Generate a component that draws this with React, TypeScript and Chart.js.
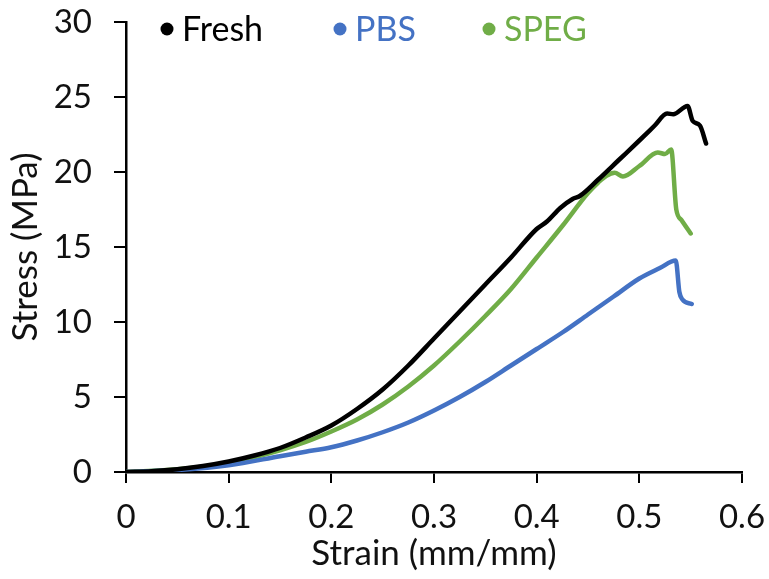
import React, { useEffect, useRef } from "react";
import { Chart, registerables } from "chart.js";

Chart.register(...registerables);

const seriesNames = ["Fresh", "PBS", "SPEG"];
const seriesColors = ["#000000", "#4472C4", "#70AD47"];

const freshStrain = [0, 0.025, 0.05, 0.075, 0.1, 0.125, 0.15, 0.175, 0.2, 0.225, 0.25, 0.275, 0.3, 0.325, 0.35, 0.375, 0.4, 0.41, 0.423, 0.435, 0.442, 0.46, 0.48, 0.5, 0.515, 0.527, 0.533, 0.547, 0.552, 0.559, 0.565];
const freshStress = [0, 0.05, 0.18, 0.4, 0.7, 1.1, 1.6, 2.3, 3.1, 4.2, 5.5, 7.1, 8.9, 10.7, 12.5, 14.3, 16.2, 16.7, 17.6, 18.2, 18.4, 19.5, 20.8, 22.1, 23.1, 23.9, 23.85, 24.4, 23.4, 23.1, 21.9];

const pbsStrain = [0, 0.05, 0.1, 0.15, 0.175, 0.2, 0.225, 0.25, 0.275, 0.3, 0.325, 0.35, 0.375, 0.4, 0.425, 0.45, 0.475, 0.5, 0.52, 0.5355, 0.539, 0.542, 0.551];
const pbsStress = [0, 0.13, 0.45, 1.05, 1.35, 1.65, 2.1, 2.65, 3.3, 4.1, 5.0, 6.0, 7.1, 8.2, 9.3, 10.5, 11.7, 12.9, 13.6, 14.1, 12.0, 11.5, 11.2];

const spegStrain = [0, 0.05, 0.1, 0.15, 0.175, 0.2, 0.225, 0.25, 0.275, 0.3, 0.325, 0.35, 0.375, 0.4, 0.425, 0.45, 0.46, 0.468, 0.476, 0.484, 0.5, 0.518, 0.525, 0.531, 0.536, 0.541, 0.55];
const spegStress = [0, 0.18, 0.6, 1.45, 2.0, 2.7, 3.5, 4.5, 5.7, 7.1, 8.7, 10.4, 12.2, 14.3, 16.4, 18.6, 19.3, 19.75, 19.95, 19.7, 20.4, 21.3, 21.2, 21.5, 17.5, 16.8, 15.9];

const xTickLabels = ["0", "0.1", "0.2", "0.3", "0.4", "0.5", "0.6"];
const yTickLabels = ["0", "5", "10", "15", "20", "25", "30"];
const xTitle = "Strain (mm/mm)";
const yTitle = "Stress (MPa)";

const FONT = "Lato, 'Open Sans', sans-serif";

const pairs = (xs: number[], ys: number[]) => xs.map((x, i) => ({ x, y: ys[i] }));

const legendPlugin = {
  id: "customLegend",
  afterDraw(chart: any) {
    const { ctx, chartArea } = chart;
    const offsets = [41, 214, 363];
    ctx.save();
    ctx.font = `34px ${FONT}`;
    ctx.textBaseline = "middle";
    ctx.textAlign = "left";
    chart.data.datasets.forEach((ds: any, i: number) => {
      const cx = chartArea.left + offsets[i];
      const cy = chartArea.top + 7;
      ctx.fillStyle = ds.borderColor;
      ctx.beginPath();
      ctx.arc(cx, cy, 6.5, 0, Math.PI * 2);
      ctx.fill();
      ctx.fillText(ds.label, cx + 15, cy + 1);
    });
    ctx.restore();
  },
};

export default function App() {
  const ref = useRef<HTMLCanvasElement>(null);
  useEffect(() => {
    if (!ref.current) return;
    const chart = new Chart(ref.current, {
      type: "scatter",
      data: {
        datasets: [
          { label: seriesNames[0], data: pairs(freshStrain, freshStress), borderColor: seriesColors[0], backgroundColor: seriesColors[0] },
          { label: seriesNames[1], data: pairs(pbsStrain, pbsStress), borderColor: seriesColors[1], backgroundColor: seriesColors[1] },
          { label: seriesNames[2], data: pairs(spegStrain, spegStress), borderColor: seriesColors[2], backgroundColor: seriesColors[2] },
        ].map((d) => ({ ...d, showLine: true, pointRadius: 0, borderWidth: 4.5, cubicInterpolationMode: "monotone" as const, borderJoinStyle: "round" as const, borderCapStyle: "round" as const })),
      },
      plugins: [legendPlugin],
      options: {
        responsive: false,
        animation: false,
        layout: { padding: { top: 22, right: 27, left: 0, bottom: 0 } },
        plugins: { legend: { display: false }, tooltip: { enabled: false } },
        scales: {
          x: {
            type: "linear",
            min: 0,
            max: 0.6,
            afterFit: (s: any) => { s.height = 107; s.paddingLeft = 0; s.paddingRight = 0; },
            afterBuildTicks: (s: any) => { s.ticks = xTickLabels.map((t) => ({ value: parseFloat(t) })); },
            ticks: { callback: (_v: any, i: number) => xTickLabels[i], font: { family: FONT, size: 33 }, color: "#111", padding: 15, maxRotation: 0 },
            grid: { display: true, drawOnChartArea: false, drawTicks: true, tickLength: 11, color: "#000", lineWidth: 2 },
            border: { display: true, color: "#000", width: 2.5 },
            title: { display: true, text: xTitle, font: { family: FONT, size: 35 }, color: "#111", padding: { top: 0, bottom: 4 } },
          },
          y: {
            type: "linear",
            min: 0,
            max: 30,
            afterFit: (s: any) => { s.width = 126; s.paddingTop = 0; s.paddingBottom = 0; },
            afterBuildTicks: (s: any) => { s.ticks = yTickLabels.map((t) => ({ value: parseFloat(t) })); },
            ticks: { callback: (_v: any, i: number) => yTickLabels[i], font: { family: FONT, size: 33 }, color: "#111", padding: 22 },
            grid: { display: true, drawOnChartArea: false, drawTicks: true, tickLength: 12, color: "#000", lineWidth: 2 },
            border: { display: true, color: "#000", width: 2.5 },
            title: { display: true, text: yTitle, font: { family: FONT, size: 35 }, color: "#111", padding: { top: 5, bottom: 0 } },
          },
        },
      },
    });
    return () => chart.destroy();
  }, []);
  return (
    <div style={{ position: "fixed", left: 0, top: 0, width: 769, height: 579, background: "#fff" }}>
      <canvas ref={ref} width={769} height={579} style={{ display: "block" }} />
    </div>
  );
}
